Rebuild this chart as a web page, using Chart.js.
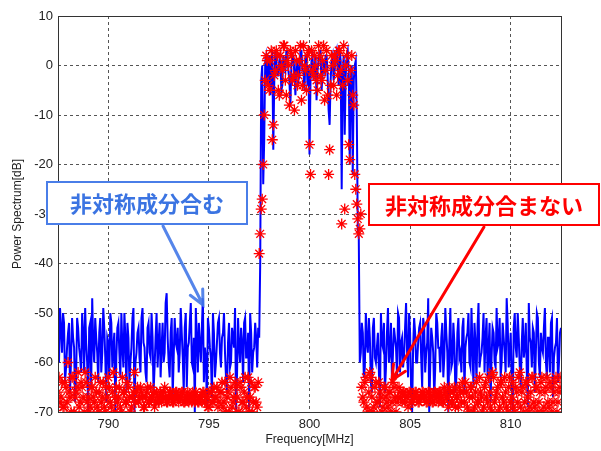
<!DOCTYPE html>
<html lang="ja">
<head>
<meta charset="UTF-8">
<title>Power Spectrum</title>
<script src="https://cdn.jsdelivr.net/npm/chart.js@4.4.1/dist/chart.umd.min.js"></script>
<style>
    body { margin: 0; background: #fff; }
    #chart { display: block; }
</style>
</head>
<body>
<canvas id="chart" width="601" height="451"></canvas>
<script>
// sample grid: 787.5 .. 812.5 MHz, 0.1 MHz apart, plus a second set half a step later
const freqStart = 787.5;
const freqStep = 0.1;
const midOffset = 0.05;

const xTicks = [790, 795, 800, 805, 810];
const yTicks = [10, 0, -10, -20, -30, -40, -50, -60, -70];

// blue: with asymmetric component (787.5, 787.6, ...)
const blueDb = [
    // 787.5 - 797.5
    -55,-49,-58,-52,-61,-54,-66,-51,-57,-63,
    -53,-59,-50,-62,-56,-70,-52,-47,-60,-55,
    -64,-51,-58,-53,-68,-56,-50,-61,-54,-59,
    -52,-63,-57,-50,-66,-55,-60,-51,-70,-58,
    -53,-62,-49,-57,-64,-52,-59,-55,-61,-50,
    -56,-63,-52,-58,-46,-60,-54,-67,-51,-57,
    -62,-49,-59,-53,-65,-56,-48,-61,-70,-55,
    -52,-60,-47,-57,-69,-53,-59,-50,-63,-56,
    -51,-61,-54,-58,-66,-52,-60,-55,-49,-62,
    -57,-53,-64,-51,-59,-70,-54,-58,-52,-61,
    -55,
    // 797.6 - 802.4
    -3,-24,1,-4,2,-1,-17,3,-2,1,
    -5,2,-1,3,-3,0,2,-6,1,-2,
    3,-1,2,-4,-18,1,-3,2,-1,3,
    -5,0,2,-2,-12,1,-3,2,-1,3,
    -25,2,-2,3,-20,0,-3,1,-33,
    // 802.5 - 812.5
    -60,
    -52,-63,-50,-58,-55,-66,-51,-60,-54,-69,
    -56,-52,-61,-49,-58,-64,-53,-57,-50,-62,
    -55,-59,-48,-63,-54,-70,-51,-60,-56,-52,
    -65,-53,-58,-47,-61,-55,-67,-50,-57,-62,
    -52,-59,-54,-70,-49,-60,-56,-63,-51,-58,
    -53,-66,-55,-50,-61,-57,-52,-64,-48,-59,
    -55,-62,-51,-57,-68,-53,-60,-49,-56,-63,
    -52,-58,-47,-61,-54,-70,-50,-59,-55,-65,
    -51,-57,-62,-48,-56,-53,-66,-50,-60,-54,
    -58,-49,-63,-55,-52,-67,-57,-51,-60,-53
];

// blue, in-between samples (787.55, 787.65, ...)
const blueDbMid = [
    // 787.55 - 797.45
    -60,-53,-50,-64,-57,-52,-59,-55,-68,-51,
    -57,-62,-54,-49,-60,-53,-65,-56,-51,-58,
    -54,-62,-49,-59,-55,-63,-52,-57,-70,-53,
    -58,-50,-61,-55,-52,-64,-57,-49,-60,-54,
    -59,-51,-56,-62,-53,-58,-50,-66,-55,-61,
    -52,-57,-60,-48,-55,-63,-51,-59,-56,-53,
    -58,-54,-66,-50,-57,-52,-60,-55,-49,-62,
    -56,-53,-64,-59,-51,-57,-67,-54,-60,-52,
    -58,-55,-50,-63,-56,-61,-53,-57,-70,-51,
    -60,-56,-52,-59,-54,-50,-62,-57,-55,-53,
    // 797.55 - 802.45
    -40,0,-15,2,-1,-6,3,-3,1,-2,
    2,-4,0,3,-1,-8,2,-2,1,-3,
    3,-1,-5,2,0,-3,2,-1,-7,1,
    3,-2,-1,2,-9,-3,2,-1,3,-4,
    1,-2,-14,2,-1,-3,-22,0,-10,-35,
    // 802.55 - 812.45
    -58,-54,-61,-56,-51,-64,-53,-59,-57,-62,
    -50,-57,-66,-54,-60,-52,-58,-55,-63,-51,
    -56,-61,-53,-58,-50,-65,-57,-54,-60,-53,
    -59,-51,-62,-56,-70,-53,-58,-61,-52,-57,
    -55,-63,-49,-58,-56,-61,-52,-66,-54,-59,
    -62,-51,-57,-54,-60,-49,-65,-56,-53,-61,
    -58,-50,-55,-63,-52,-59,-54,-61,-57,-51,
    -60,-55,-62,-52,-58,-64,-53,-57,-50,-61,
    -56,-59,-52,-69,-55,-61,-54,-58,-51,-63,
    -57,-53,-60,-55,-62,-51,-59,-56,-64,-54
];

// red: without asymmetric component (787.5, 787.6, ...)
const redDb = [
    // 787.5 - 797.5
    -66,-68,-64,-69,-65,-60,-67,-63,-70,-66,
    -62,-68,-65,-70,-64,-67,-69,-65,-68,-66,
    -70,-64,-67,-69,-65,-63,-68,-66,-70,-65,
    -67,-69,-63,-66,-68,-65,-70,-67,-62,-66,
    -68,-65,-67,-69,-66,-68,-65,-67,-69,-66,
    -68,-66,-67,-65,-68,-67,-66,-68,-67,-66,
    -68,-67,-66,-68,-67,-68,-67,-66,-68,-67,
    -68,-67,-66,-68,-67,-69,-66,-68,-67,-65,
    -68,-66,-69,-64,-67,-70,-65,-68,-64,-67,
    -70,-65,-68,-63,-67,-70,-64,-68,-65,-69,
    -38,
    // 797.6 - 802.4
    -29,-20,-3,1,-5,3,-12,-1,2,-6,
    0,4,-3,1,-8,2,-2,3,-4,1,
    -7,4,-1,2,-16,3,-2,0,-5,2,
    -3,4,-1,-6,-17,2,-4,1,-2,3,
    -32,4,0,-3,-19,2,-8,-25,-31,
    // 802.5 - 812.5
    -33,
    -65,-68,-63,-70,-62,-67,-69,-64,-68,-66,
    -70,-65,-67,-69,-66,-68,-65,-70,-67,-66,
    -68,-66,-67,-69,-66,-68,-67,-66,-68,-67,
    -66,-67,-68,-66,-67,-68,-66,-67,-68,-66,
    -68,-65,-67,-69,-66,-68,-65,-67,-69,-66,
    -64,-68,-66,-70,-65,-67,-69,-64,-68,-66,
    -70,-65,-67,-63,-69,-62,-68,-66,-70,-64,
    -67,-63,-69,-65,-68,-64,-70,-66,-63,-69,
    -65,-68,-64,-70,-66,-63,-69,-65,-68,-64,
    -70,-66,-63,-69,-65,-68,-64,-70,-66,-63
];

// red, in-between samples (787.55, 787.65, ...)
const redDbMid = [
    // 787.55 - 797.45
    -63,-67,-69,-64,-68,-66,-70,-63,-67,-65,
    -69,-64,-67,-62,-68,-70,-65,-67,-63,-69,
    -66,-68,-64,-70,-67,-65,-69,-62,-67,-68,
    -65,-70,-66,-68,-64,-67,-69,-66,-68,-65,
    -67,-66,-69,-67,-65,-68,-67,-66,-68,-67,
    -67,-68,-66,-67,-68,-66,-67,-68,-66,-67,
    -67,-66,-68,-67,-66,-67,-68,-67,-66,-68,
    -67,-68,-66,-67,-69,-66,-68,-65,-67,-69,
    -66,-64,-68,-70,-66,-63,-69,-67,-65,-70,
    -64,-68,-66,-69,-63,-67,-70,-65,-68,-64,
    // 797.55 - 802.45
    -34,-27,-10,2,-4,1,-15,-2,3,-5,
    2,-1,4,-6,0,3,-3,-9,1,-2,
    4,-4,0,-5,3,-22,-1,2,-3,4,
    -2,1,-7,3,-22,-4,0,2,-6,3,
    -1,-4,-29,2,-16,-1,-6,-22,-28,-34,
    // 802.55 - 812.45
    -30,-67,-64,-69,-66,-63,-70,-65,-68,-64,
    -67,-69,-65,-68,-66,-70,-64,-67,-68,-65,
    -67,-66,-68,-67,-66,-68,-67,-66,-67,-68,
    -67,-66,-67,-68,-66,-67,-68,-66,-67,-66,
    -67,-68,-66,-67,-65,-68,-66,-69,-67,-65,
    -68,-66,-64,-69,-67,-65,-70,-66,-68,-63,
    -67,-69,-64,-68,-66,-70,-63,-67,-65,-69,
    -64,-68,-66,-70,-63,-67,-69,-65,-68,-62,
    -66,-70,-64,-67,-69,-63,-68,-65,-70,-66,
    -63,-69,-65,-68,-64,-70,-66,-63,-68,-65
];

function toPoints(values, offset) {
    return values.map((v, i) => ({ x: +(freqStart + offset + i * freqStep).toFixed(3), y: v }));
}

function merged(a, b) {
    return toPoints(a, 0).concat(toPoints(b, midOffset)).sort((p, q) => p.x - q.x);
}

// box around plot + callouts with arrows
const overlay = {
    id: 'overlay',
    afterDatasetsDraw(chart) {
        const { ctx, chartArea: a } = chart;
        ctx.save();
        ctx.strokeStyle = '#333';
        ctx.lineWidth = 1;
        ctx.strokeRect(Math.round(a.left) + 0.5, Math.round(a.top) + 0.5,
            Math.round(a.right - a.left), Math.round(a.bottom - a.top));
        ctx.restore();
    },
    afterDraw(chart) {
        const ctx = chart.ctx;
        ctx.save();
        drawArrow(ctx, 163, 226, 203, 305, 'rgba(66,120,232,0.9)');
        drawArrow(ctx, 484, 227, 392, 380, '#ff0000');
        drawBox(ctx, 47, 182, 200, 42, '#4a7ee8', '#3b74e2', '非対称成分合む');
        drawBox(ctx, 369, 184, 230, 41, '#ff0000', '#ff0000', '非対称成分合まない');
        ctx.restore();
    }
};

function drawBox(ctx, x, y, w, h, border, color, text) {
    ctx.fillStyle = '#fff';
    ctx.fillRect(x, y, w, h);
    ctx.strokeStyle = border;
    ctx.lineWidth = 2;
    ctx.strokeRect(x, y, w, h);
    ctx.fillStyle = color;
    ctx.font = 'bold 22px "Noto Sans CJK JP"';
    ctx.textAlign = 'center';
    ctx.textBaseline = 'middle';
    ctx.fillText(text, x + w / 2, y + h / 2 + 1);
}

function drawArrow(ctx, x1, y1, x2, y2, color) {
    const ang = Math.atan2(y2 - y1, x2 - x1);
    const len = 16;
    ctx.strokeStyle = color;
    ctx.lineWidth = 3;
    ctx.lineCap = 'round';
    ctx.beginPath();
    ctx.moveTo(x1, y1);
    ctx.lineTo(x2, y2);
    ctx.moveTo(x2 - len * Math.cos(ang - 0.45), y2 - len * Math.sin(ang - 0.45));
    ctx.lineTo(x2, y2);
    ctx.lineTo(x2 - len * Math.cos(ang + 0.45), y2 - len * Math.sin(ang + 0.45));
    ctx.stroke();
}

const tickFont = { family: '"Liberation Sans", Arial, sans-serif', size: 13 };

new Chart(document.getElementById('chart'), {
    type: 'line',
    data: {
        datasets: [
            {
                label: 'red',
                data: merged(redDb, redDbMid),
                showLine: false,
                pointStyle: 'star',
                pointRadius: 5.5,
                pointBorderWidth: 1.3,
                pointBorderColor: '#ff0000',
                pointBackgroundColor: '#ff0000',
                clip: 0,
                order: 0
            },
            {
                label: 'blue',
                data: merged(blueDb, blueDbMid),
                borderColor: '#0000ff',
                borderWidth: 2,
                pointRadius: 0,
                tension: 0,
                clip: 0,
                order: 1
            }
        ]
    },
    options: {
        responsive: false,
        animation: false,
        events: [],
        layout: { padding: { left: 6, top: 16, right: 40, bottom: 0 } },
        plugins: { legend: { display: false }, tooltip: { enabled: false } },
        scales: {
            x: {
                type: 'linear',
                min: 787.5,
                max: 812.5,
                afterBuildTicks: (s) => { s.ticks = xTicks.map(v => ({ value: v })); },
                afterFit: (s) => { s.height = 39; },
                grid: { color: '#555', drawTicks: false },
                border: { display: false, dash: [3, 3] },
                ticks: { color: '#222', font: tickFont, padding: 5 },
                title: { display: true, text: 'Frequency[MHz]', color: '#222',
                    font: { family: '"Liberation Sans", Arial, sans-serif', size: 12 }, padding: { top: 0, bottom: 4 } }
            },
            y: {
                min: -70,
                max: 10,
                afterBuildTicks: (s) => { s.ticks = yTicks.map(v => ({ value: v })); },
                afterFit: (s) => { s.width = 52; },
                grid: { color: '#555', drawTicks: false },
                border: { display: false, dash: [3, 3] },
                ticks: { color: '#222', font: tickFont, padding: 5 },
                title: { display: true, text: 'Power Spectrum[dB]', color: '#222',
                    font: { family: '"Liberation Sans", Arial, sans-serif', size: 12 }, padding: { top: 4, bottom: 0 } }
            }
        }
    },
    plugins: [overlay]
});
</script>
</body>
</html>
